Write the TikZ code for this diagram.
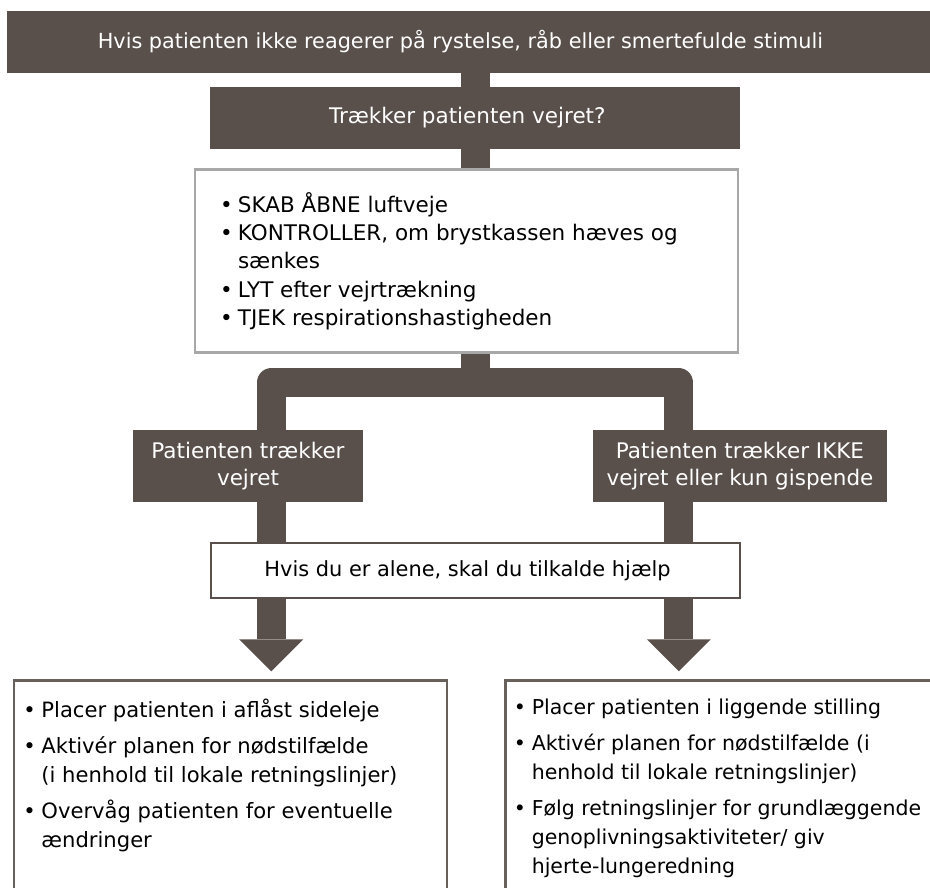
\documentclass[tikz,border=0pt]{standalone}
\usepackage{fontspec}
\setmainfont{DejaVu Sans}
\usetikzlibrary{arrows.meta,backgrounds}
\definecolor{bark}{RGB}{89,80,75}
\definecolor{rim}{RGB}{168,168,168}
\definecolor{edge}{RGB}{104,96,91}
\newcommand{\itm}[1]{\par\hangindent=13pt\hangafter=1\noindent\makebox[13pt][l]{\hspace{-5pt}\textbullet}#1}
\newcommand{\gap}{\par\vspace{7pt}}

\begin{document}
\begin{tikzpicture}[x=1pt,y=-1pt,
    darkbox/.style={fill=bark,text=white,align=center,inner sep=0pt,font=\fontsize{21.5}{27}\selectfont},
    checkbox/.style={draw=rim,line width=2.5pt,fill=white,inner sep=0pt,font=\fontsize{21.5}{28.3}\selectfont},
    callbox/.style={draw=bark,line width=2pt,fill=white,inner sep=0pt,font=\fontsize{20.9}{27}\selectfont},
    stepbox/.style={draw=edge,line width=2.5pt,fill=white,anchor=north west,inner xsep=14.5pt,inner ysep=18pt,font=\fontsize{21.1}{29}\selectfont},
    bar/.style={draw=bark,line width=29pt,line join=round},
    flow/.style={bar,-{Triangle[width=64pt,length=32pt,line width=0pt]},shorten >=8pt}]
  \path[use as bounding box] (0,0) rectangle (930,888);
  \clip (0,0) rectangle (930,888);

  \node[darkbox,minimum width=923pt,minimum height=62pt,font=\fontsize{20.8}{27}\selectfont] (top) at (468.5,41.7) {\hspace*{-16pt}Hvis patienten ikke reagerer på rystelse, råb eller smertefulde stimuli};
  \node[darkbox,minimum width=530pt,minimum height=62pt] (q) at (475.3,118) {\hspace*{-16pt}Trækker patienten vejret?};
  \node[checkbox,minimum width=543pt,minimum height=183pt] (chk) at (466.5,261) {\parbox{483pt}{\raggedright
      \itm{SKAB ÅBNE luftveje}
      \itm{KONTROLLER, om brystkassen hæves og\newline sænkes}
      \itm{LYT efter vejrtrækning}
      \itm{TJEK respirationshastigheden}}};
  \node[darkbox,minimum width=230pt,minimum height=72pt] (yes) at (248,466) {Patienten trækker\\vejret};
  \node[darkbox,minimum width=294pt,minimum height=72pt] (no) at (740,466) {Patienten trækker IKKE\\vejret eller kun gispende};
  \node[callbox,minimum width=529pt,minimum height=55pt] (alone) at (475.5,570.8) {\hspace*{-16pt}Hvis du er alene, skal du tilkalde hjælp};
  \node[stepbox] (bl) at (12.7,679.3) {\parbox[t][240pt][t]{404pt}{\raggedright
      \itm{Placer patienten i aflåst sideleje}\gap
      \itm{Aktivér planen for nødstilfælde\newline (i henhold til lokale retningslinjer)}\gap
      \itm{Overvåg patienten for eventuelle\newline ændringer}}};
  \node[stepbox,inner xsep=13.5pt,font=\fontsize{20.5}{29}\selectfont] (br) at (504,679.3) {\parbox[t][240pt][t]{440pt}{\raggedright
      \itm{Placer patienten i liggende stilling}\gap
      \itm{Aktivér planen for nødstilfælde (i\newline henhold til lokale retningslinjer)}\gap
      \itm{Følg retningslinjer for grundlæggende\newline genoplivningsaktiviteter/ giv\newline hjerte-lungeredning}}};

  \begin{scope}[on background layer]
    \coordinate (lj) at (271.2,382.7);
    \coordinate (rj) at (678.8,382.7);
    \draw[bar] (top.south -| q.north) -- (q.north);
    \draw[bar] (q.south) -- (q.south |- chk.north);
    \draw[bar] (chk.south -| q.south) -- (q.south |- lj);
    \draw[bar] (lj |- yes.north) -- (lj) -- (rj) -- (rj |- no.north);
    \draw[flow] (lj |- yes.south) -- (lj |- bl.north);
    \draw[flow] (rj |- no.south) -- (rj |- br.north);
  \end{scope}
\end{tikzpicture}
\end{document}
